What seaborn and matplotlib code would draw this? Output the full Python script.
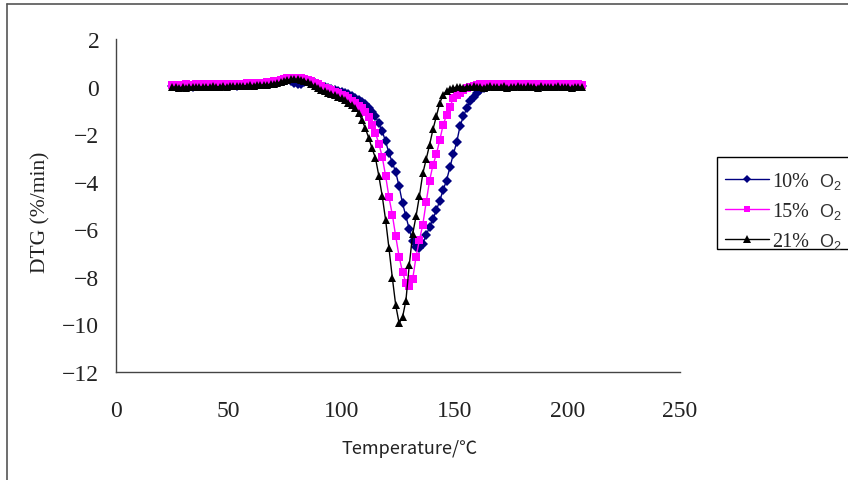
import matplotlib
matplotlib.use("Agg")
import matplotlib.pyplot as plt
from matplotlib.lines import Line2D
from matplotlib.patches import Rectangle
import seaborn as sns
import pandas as pd

# ---- data ----
temperature = [
    25.0, 26.5, 28.0, 29.5, 31.0, 32.5, 34.0, 35.5, 37.0, 38.5,
    40.0, 41.5, 43.0, 44.5, 46.0, 47.5, 49.0, 50.5, 52.0, 53.5,
    55.0, 56.5, 58.0, 59.5, 61.0, 62.5, 64.0, 65.5, 67.0, 68.5,
    70.0, 71.5, 73.0, 74.5, 76.0, 77.5, 79.0, 80.5, 82.0, 83.5,
    85.0, 86.5, 88.0, 89.5, 91.0, 92.5, 94.0, 95.5, 97.0, 98.5,
    100.0, 101.5, 103.0, 104.5, 106.0, 107.5, 109.0, 110.5, 112.0, 113.5,
    115.0, 116.5, 118.0, 119.5, 121.0, 122.5, 124.0, 125.5, 127.0, 128.5,
    130.0, 131.5, 133.0, 134.5, 136.0, 137.5, 139.0, 140.5, 142.0, 143.5,
    145.0, 146.5, 148.0, 149.5, 151.0, 152.5, 154.0, 155.5, 157.0, 158.5,
    160.0, 161.5, 163.0, 164.5, 166.0, 167.5, 169.0, 170.5, 172.0, 173.5,
    175.0, 176.5, 178.0, 179.5, 181.0, 182.5, 184.0, 185.5, 187.0, 188.5,
    190.0, 191.5, 193.0, 194.5, 196.0, 197.5, 199.0, 200.5, 202.0, 203.5,
    205.0, 206.5,
]

dtg_10 = [
    0.02, 0.00, 0.03, 0.01, 0.04, 0.02, 0.00, 0.03, 0.01, 0.04,
    0.02, 0.05, 0.03, 0.01, 0.04, 0.06, 0.03, 0.05, 0.07, 0.04,
    0.06, 0.08, 0.05, 0.07, 0.09, 0.08, 0.10, 0.12, 0.11, 0.14,
    0.16, 0.18, 0.22, 0.25, 0.27, 0.22, 0.15, 0.10, 0.12, 0.18,
    0.22, 0.20, 0.15, 0.08, 0.02, -0.02, -0.06, -0.10, -0.14, -0.18,
    -0.22, -0.27, -0.33, -0.40, -0.47, -0.55, -0.65, -0.75, -0.88, -1.05,
    -1.25, -1.55, -1.88, -2.30, -2.80, -3.20, -3.60, -4.20, -4.90, -5.45,
    -6.00, -6.50, -6.75, -6.80, -6.60, -6.25, -5.90, -5.57, -5.20, -4.80,
    -4.35, -3.95, -3.40, -2.85, -2.35, -1.66, -1.25, -0.90, -0.62, -0.42,
    -0.27, -0.16, -0.08, -0.03, 0.03, 0.05, 0.02, 0.06, 0.04, 0.07,
    0.03, 0.05, 0.08, 0.04, 0.06, 0.03, 0.07, 0.05, 0.08, 0.04,
    0.06, 0.03, 0.07, 0.05, 0.04, 0.08, 0.05, 0.06, 0.03, 0.07,
    0.05, 0.04,
]

dtg_15 = [
    0.06, 0.08, 0.05, 0.07, 0.09, 0.06, 0.08, 0.10, 0.07, 0.09,
    0.08, 0.10, 0.07, 0.10, 0.09, 0.11, 0.08, 0.10, 0.12, 0.09,
    0.11, 0.10, 0.13, 0.11, 0.14, 0.12, 0.15, 0.16, 0.18, 0.20,
    0.22, 0.25, 0.28, 0.32, 0.34, 0.36, 0.37, 0.36, 0.35, 0.32,
    0.28, 0.23, 0.17, 0.10, 0.03, -0.04, -0.10, -0.16, -0.22, -0.28,
    -0.34, -0.41, -0.50, -0.60, -0.70, -0.80, -0.92, -1.05, -1.28, -1.60,
    -1.95, -2.40, -2.95, -3.75, -4.65, -5.40, -6.30, -7.15, -7.80, -8.25,
    -8.40, -8.10, -7.15, -6.45, -5.80, -4.85, -3.95, -3.30, -2.85, -2.25,
    -1.62, -1.20, -0.85, -0.50, -0.35, -0.25, -0.15, -0.08, -0.02, 0.02,
    0.06, 0.09, 0.07, 0.10, 0.08, 0.11, 0.07, 0.09, 0.12, 0.08,
    0.10, 0.07, 0.11, 0.09, 0.12, 0.08, 0.10, 0.07, 0.11, 0.09,
    0.12, 0.08, 0.10, 0.07, 0.11, 0.09, 0.12, 0.08, 0.10, 0.09,
    0.11, 0.08,
]

dtg_21 = [
    -0.03, -0.02, -0.05, -0.02, -0.04, -0.01, -0.03, 0.00, -0.02, -0.01,
    0.00, -0.02, 0.01, -0.01, 0.00, 0.02, 0.00, 0.01, 0.03, 0.01,
    0.02, 0.04, 0.03, 0.05, 0.04, 0.06, 0.05, 0.08, 0.07, 0.10,
    0.12, 0.15, 0.20, 0.25, 0.28, 0.30, 0.32, 0.30, 0.29, 0.25,
    0.18, 0.10, 0.02, -0.06, -0.14, -0.20, -0.26, -0.31, -0.37, -0.43,
    -0.50, -0.58, -0.67, -0.77, -0.92, -1.10, -1.40, -1.75, -2.15, -2.60,
    -3.00, -3.75, -4.60, -5.60, -6.80, -8.05, -9.20, -9.95, -9.70, -9.00,
    -7.50, -6.20, -5.45, -4.60, -3.65, -3.05, -2.45, -1.80, -1.25, -0.70,
    -0.35, -0.18, -0.10, -0.06, -0.03, -0.01, -0.04, 0.00, -0.02, 0.01,
    -0.03, 0.00, -0.05, -0.01, 0.02, -0.03, 0.00, -0.02, 0.01, -0.04,
    0.00, -0.02, 0.02, -0.01, -0.03, 0.01, -0.02, 0.00, -0.04, 0.01,
    -0.01, -0.03, 0.00, -0.02, 0.01, -0.03, 0.00, -0.02, -0.04, 0.00,
    -0.02, -0.03,
]

series_names = ["10%", "15%", "21%"]
legend_suffix = "O$_2$"
x_ticks = [0, 50, 100, 150, 200, 250]
y_ticks = [2, 0, -2, -4, -6, -8, -10, -12]

# ---- build table ----
df = pd.concat([
    pd.DataFrame({"T": temperature, "DTG": vals, "series": name})
    for name, vals in zip(series_names, [dtg_10, dtg_15, dtg_21])
], ignore_index=True)

sns.set_style("white")
plt.rcParams["font.family"] = ["Liberation Serif", "DejaVu Serif"]
plt.rcParams["mathtext.fontset"] = "custom"
plt.rcParams["mathtext.sf"] = "Liberation Sans"
plt.rcParams["mathtext.rm"] = "Liberation Sans"

colors = {"10%": "#000080", "15%": "#FF00FF", "21%": "#000000"}
markers = {"10%": "D", "15%": "s", "21%": "^"}
msize = {"10%": 4.8, "15%": 5.3, "21%": 6.2}

fig = plt.figure(figsize=(8.48, 4.81), dpi=100)
ax = fig.add_axes([116 / 848, 1 - 373 / 481, (680 - 116) / 848, (373 - 40) / 481])

for name in series_names:
    sns.lineplot(data=df[df["series"] == name], x="T", y="DTG", color=colors[name],
                 marker=markers[name], markersize=msize[name], markeredgewidth=0,
                 linewidth=1.0, sort=False, ax=ax, legend=False, estimator=None)

ax.set_xlim(0, 250)
ax.set_ylim(-12, 2)
ax.set_xticks(x_ticks)
ax.set_yticks(y_ticks)
ax.tick_params(axis="both", direction="in", length=4, width=1, color="#444444",
               labelsize=17, labelcolor="#222222")
ax.tick_params(axis="x", pad=20)
ax.tick_params(axis="y", pad=12)
for side in ["top", "right"]:
    ax.spines[side].set_visible(False)
for side in ["left", "bottom"]:
    ax.spines[side].set_color("#444444")
    ax.spines[side].set_linewidth(1.0)

ax.set_xlabel("Temperature/℃", family=["Noto Sans CJK SC", "DejaVu Sans"],
              fontsize=13, color="#222222")
ax.xaxis.set_label_coords((410 - 116) / 564, (373 - 440) / 333)
ax.set_ylabel("DTG (%/min)", fontsize=15.5, color="#222222")
ax.yaxis.set_label_coords((50 - 116) / 564, (373 - 212) / 333)

# legend box (runs off the right edge as in the original)
fig.add_artist(Rectangle((717 / 848, 1 - 250 / 481), 0.3, 92 / 481,
                         transform=fig.transFigure, facecolor="white",
                         edgecolor="#000000", linewidth=1.0, zorder=4))

handles = [Line2D([], [], color=colors[n], marker=markers[n], markersize=msize[n] * 0.85,
                  markeredgewidth=0, linewidth=1.0) for n in series_names]
leg = fig.legend(handles, series_names, loc="upper left",
                 bbox_to_anchor=(717 / 848, 1 - 165 / 481), bbox_transform=fig.transFigure,
                 frameon=False, fontsize=14.5,
                 handlelength=2.2, handletextpad=0.12, labelspacing=0.55,
                 borderpad=0.4, borderaxespad=0)
leg.set_zorder(6)

# gas label next to each legend entry, in a sans face like the original
fig.canvas.draw()
renderer = fig.canvas.get_renderer()
inv = fig.transFigure.inverted()
for txt in leg.get_texts():
    bb = txt.get_window_extent(renderer)
    x0, y0 = inv.transform((bb.x1 + 10, (bb.y0 + bb.y1) / 2 + 1))
    fig.text(x0, y0, legend_suffix, fontsize=13, color="#333333", va="center", ha="left",
             family=["Liberation Sans", "DejaVu Sans"], zorder=7)

# outer frame lines (top and left)
fig.add_artist(Line2D([7 / 848, 1.0], [1 - 5 / 481, 1 - 5 / 481],
                      transform=fig.transFigure, color="#555555", linewidth=1.2))
fig.add_artist(Line2D([7 / 848, 7 / 848], [0.0, 1 - 5 / 481],
                      transform=fig.transFigure, color="#555555", linewidth=1.2))

fig.savefig("out.png", dpi=100)
